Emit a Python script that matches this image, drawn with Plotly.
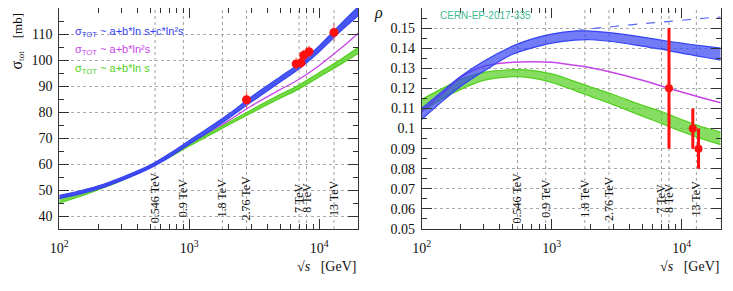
import math
import plotly.graph_objects as go

# ---------------- data ----------------
E = [100, 150, 200, 300, 500, 700, 1000, 1500, 2000, 3000, 5000, 7000, 10000, 15000, 20000]

# left panel: total cross section [mb]
sig_blue_hi = [47.9, 49.9, 51.6, 54.8, 59.6, 63.9, 69.0, 74.8, 79.1, 85.8, 93.5, 98.6, 105.4, 114.4, 120.5]
sig_blue_lo = [46.7, 48.7, 50.4, 53.6, 58.4, 62.5, 67.6, 73.2, 77.5, 83.8, 91.5, 96.6, 103.2, 111.6, 117.1]
sig_mag = [47.3, 49.3, 51.0, 54.2, 59.0, 63.0, 67.8, 73.0, 76.6, 82.3, 88.6, 92.6, 97.9, 104.9, 110.3]
sig_green_hi = [46.8, 49.0, 51.0, 54.2, 59.1, 63.0, 67.6, 72.5, 76.0, 80.8, 86.7, 90.4, 95.1, 100.6, 104.8]
sig_green_lo = [45.0, 47.8, 50.1, 53.6, 58.7, 62.5, 66.9, 71.6, 75.0, 79.6, 85.3, 88.9, 93.5, 98.7, 102.6]

sig_pts_E = [2760, 6650, 7250, 7600, 8350, 13000]
sig_pts = [84.7, 98.5, 98.9, 101.8, 103.2, 110.6]
sig_err = [3.3, 2.5, 2.3, 2.1, 2.3, 3.4]

# right panel: rho
rho_blue_hi = [0.1100, 0.1195, 0.1260, 0.1335, 0.1410, 0.1445, 0.1470, 0.1485, 0.1485, 0.1475, 0.1455, 0.1440, 0.1425, 0.1410, 0.1400]
rho_blue_lo = [0.1045, 0.1145, 0.1210, 0.1285, 0.1370, 0.1400, 0.1425, 0.1440, 0.1442, 0.1432, 0.1410, 0.1395, 0.1375, 0.1355, 0.1340]
rho_mag = [0.1085, 0.1185, 0.1255, 0.1310, 0.1330, 0.1333, 0.1330, 0.1315, 0.1303, 0.1278, 0.1240, 0.1212, 0.1182, 0.1150, 0.1128]
rho_green_hi = [0.1145, 0.1205, 0.1245, 0.1280, 0.1293, 0.1290, 0.1272, 0.1235, 0.1207, 0.1168, 0.1115, 0.1085, 0.1045, 0.1005, 0.0982]
rho_green_lo = [0.1085, 0.1155, 0.1195, 0.1240, 0.1258, 0.1252, 0.1230, 0.1190, 0.1160, 0.1118, 0.1062, 0.1025, 0.0985, 0.0945, 0.0920]

rho_dash_E = [1500, 2000, 3000, 5000, 7000, 10000, 15000, 20000]
rho_dash = [0.1485, 0.1497, 0.1508, 0.1522, 0.1530, 0.1539, 0.1549, 0.1555]

rho_pts_E = [8000, 12200, 13500]
rho_pts = [0.12, 0.10, 0.09]
rho_err = [0.03, 0.01, 0.01]

energies = [546, 900, 1800, 2760, 7000, 8000, 13000]
energy_labels = ["0.546 TeV", "0.9 TeV", "1.8 TeV", "2.76 TeV", "7 TeV", "8 TeV", "13 TeV"]

legend_texts = ["σ<sub>TOT</sub> ~ a+b*ln s+c*ln²s", "σ<sub>TOT</sub> ~ a+b*ln²s", "σ<sub>TOT</sub> ~ a+b*ln s"]

x_major = [100, 1000, 10000]
x_major_text = ["10<sup>2</sup>", "10<sup>3</sup>", "10<sup>4</sup>"]
x_minor = [200, 300, 400, 500, 600, 700, 800, 900,
           2000, 3000, 4000, 5000, 6000, 7000, 8000, 9000]

# ---------------- styling ----------------
BLUE = "#3444f2"
MAG = "#c645e6"
GREEN = "#52cf1e"
RED = "#ff1010"
OFF = 8                      # page body margin
W, H = 733 - 2 * OFF, 291 - 2 * OFF
SERIF = "Liberation Serif"
SANS = "Liberation Sans"


def px(x):
    return (x - OFF) / W


def py(y):
    return (H - (y - OFF)) / H


fig = go.Figure()


def band(lo, hi, color, fillcolor, xa, ya):
    fig.add_trace(go.Scatter(x=E, y=lo, mode="lines", line=dict(color=color, width=1.2, shape="spline"),
                             xaxis=xa, yaxis=ya, showlegend=False, hoverinfo="skip"))
    fig.add_trace(go.Scatter(x=E, y=hi, mode="lines", line=dict(color=color, width=1.2, shape="spline"),
                             fill="tonexty", fillcolor=fillcolor,
                             xaxis=xa, yaxis=ya, showlegend=False, hoverinfo="skip"))


# left panel
band(sig_green_lo, sig_green_hi, GREEN, "rgba(82,207,30,0.8)", "x", "y")
fig.add_trace(go.Scatter(x=E, y=sig_mag, mode="lines", line=dict(color=MAG, width=1.3, shape="spline"),
                         xaxis="x", yaxis="y", showlegend=False))
band(sig_blue_lo, sig_blue_hi, BLUE, "rgba(52,68,242,0.9)", "x", "y")
fig.add_trace(go.Scatter(x=sig_pts_E, y=sig_pts, mode="markers",
                         marker=dict(color=RED, size=9),
                         error_y=dict(type="data", array=sig_err, color="rgba(255,80,80,0.8)", thickness=1.2, width=0),
                         xaxis="x", yaxis="y", showlegend=False))

# right panel
band(rho_green_lo, rho_green_hi, GREEN, "rgba(82,207,30,0.7)", "x2", "y2")
fig.add_trace(go.Scatter(x=E, y=rho_mag, mode="lines", line=dict(color=MAG, width=1.5, shape="spline"),
                         xaxis="x2", yaxis="y2", showlegend=False))
band(rho_blue_lo, rho_blue_hi, BLUE, "rgba(52,68,242,0.7)", "x2", "y2")
fig.add_trace(go.Scatter(x=rho_dash_E, y=rho_dash, mode="lines",
                         line=dict(color="#5a68f5", width=1.2, dash="dash", shape="spline"),
                         xaxis="x2", yaxis="y2", showlegend=False))
fig.add_trace(go.Scatter(x=rho_pts_E, y=rho_pts, mode="markers",
                         marker=dict(color=RED, size=8),
                         error_y=dict(type="data", array=rho_err, color=RED, thickness=3, width=0),
                         xaxis="x2", yaxis="y2", showlegend=False))

# ---------------- axes ----------------
top_px, bot_px = 8, 229
ydom = [py(bot_px), py(top_px)]
xdom1 = [px(59.3), px(358.3)]
xdom2 = [px(421.7), px(720.7)]

tickfont = dict(family=SERIF, size=14, color="#111")


def xaxis_def(dom, anchor):
    return dict(type="log", domain=dom, anchor=anchor, range=[2, math.log10(20000)], automargin=False,
                tickmode="array", tickvals=x_major, ticktext=x_major_text,
                ticks="inside", ticklen=10, tickcolor="#333", showline=True, linecolor="#333",
                mirror="allticks", showgrid=False, zeroline=False, tickfont=tickfont,
                ticklabelstandoff=6,
                minor=dict(tickmode="array", tickvals=x_minor, ticks="inside", ticklen=5,
                           tickcolor="#333", showgrid=False))


def yaxis_def(rng, dtick, minor_dtick, anchor):
    return dict(domain=ydom, anchor=anchor, range=rng, dtick=dtick, tick0=0, automargin=False,
                ticks="inside", ticklen=10, tickcolor="#333", showline=True, linecolor="#333",
                mirror="allticks", showgrid=True, gridcolor="#a8a8a8", griddash="dot", gridwidth=1,
                zeroline=False, tickfont=tickfont, ticklabelstandoff=3,
                minor=dict(dtick=minor_dtick, tick0=0, ticks="inside", ticklen=5, tickcolor="#333",
                           showgrid=False))


shapes = []
annotations = []
for xa, ya in (("x", "y"), ("x2", "y2")):
    for e, lab in zip(energies, energy_labels):
        shapes.append(dict(type="line", xref=xa, yref=ya + " domain", x0=e, x1=e, y0=0, y1=1,
                           line=dict(color="#a0a0a0", width=1, dash="dot"), layer="below"))
        annotations.append(dict(x=math.log10(e), y=0.14, xref=xa, yref=ya + " domain", text=lab,
                                textangle=-90, showarrow=False, xanchor="center", yanchor="middle",
                                font=dict(family=SERIF, size=12, color="#111")))

# legend texts
for i, (t, c) in enumerate(zip(legend_texts, [BLUE, MAG, GREEN])):
    ypx = 31.7 + 18.5 * i
    annotations.append(dict(x=px(73), y=py(ypx), xref="paper", yref="paper", text=t,
                            showarrow=False, xanchor="left", yanchor="middle",
                            font=dict(family=SANS, size=11, color=c)))

annotations += [
    dict(x=px(17), y=py(11), xref="paper", yref="paper",
         text="<span style='font-size:16px'>σ</span><sub>tot</sub>\u00a0\u00a0\u00a0\u00a0[mb]",
         textangle=-90, showarrow=False, xanchor="center", yanchor="top",
         font=dict(family=SERIF, size=13, color="#111")),
    dict(x=px(358.3), y=py(266), xref="paper", yref="paper",
         text="√<i>s</i>\u00a0\u00a0\u00a0[GeV]", showarrow=False, xanchor="right", yanchor="middle",
         font=dict(family=SERIF, size=14, color="#111")),
    dict(x=px(720.7), y=py(266), xref="paper", yref="paper",
         text="√<i>s</i>\u00a0\u00a0\u00a0[GeV]", showarrow=False, xanchor="right", yanchor="middle",
         font=dict(family=SERIF, size=14, color="#111")),
    dict(x=px(378), y=py(13), xref="paper", yref="paper", text="<i>ρ</i>",
         showarrow=False, xanchor="center", yanchor="middle",
         font=dict(family=SERIF, size=16, color="#111")),
    dict(x=px(438), y=py(15.7), xref="paper", yref="paper", text="CERN-EP-2017-335",
         showarrow=False, xanchor="left", yanchor="middle",
         font=dict(family=SANS, size=10, color="#3dbb8f")),
]

fig.update_layout(
    width=W, height=H, margin=dict(l=0, r=0, t=0, b=0, autoexpand=False),
    paper_bgcolor="white", plot_bgcolor="white",
    xaxis=xaxis_def(xdom1, "y"),
    yaxis=yaxis_def([35, 120], 10, 5, "x"),
    xaxis2=xaxis_def(xdom2, "y2"),
    yaxis2=yaxis_def([0.05, 0.16], 0.01, 0.005, "x2"),
    shapes=shapes, annotations=annotations, showlegend=False,
)

fig.write_html("out.html")
